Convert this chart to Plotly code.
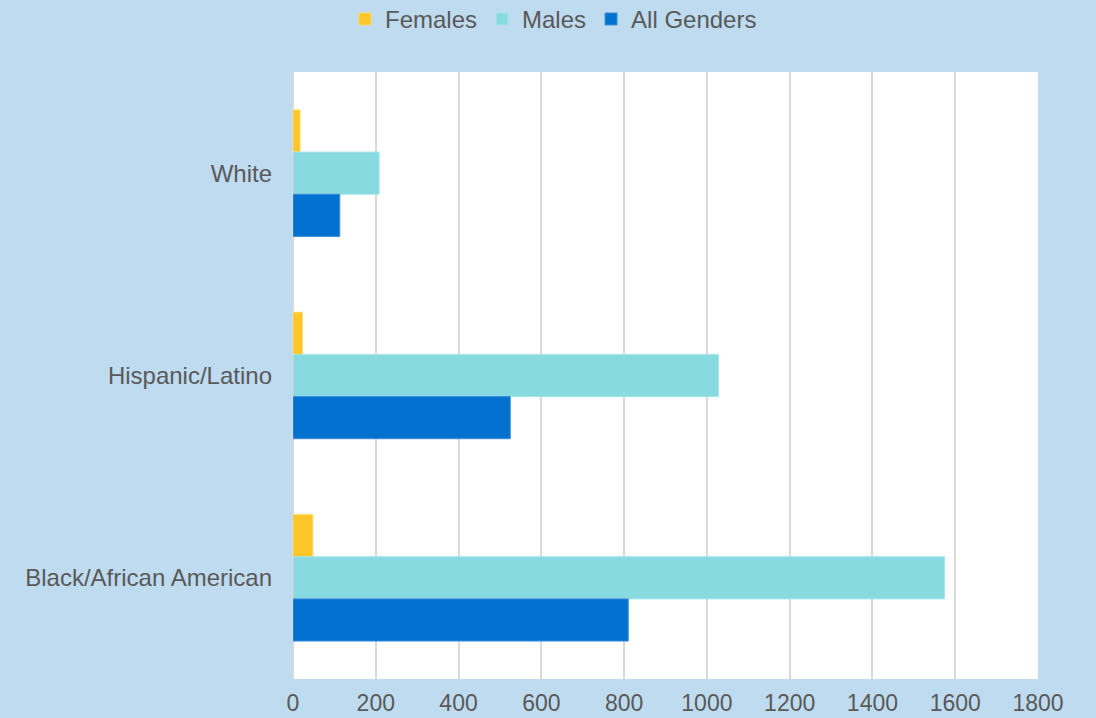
import plotly.graph_objects as go

categories = ["White", "Hispanic/Latino", "Black/African American"]
females = [17, 23, 48]
males = [208, 1028, 1574]
all_genders = [113, 525, 810]
x_ticks = [0, 200, 400, 600, 800, 1000, 1200, 1400, 1600, 1800]

BG = "#BFDBF0"
TEXT = "#595959"
FONT = "Liberation Sans, Arial, sans-serif"

fig = go.Figure()
series = [
    ("Females", females, "#FFC629", "#FFD866"),
    ("Males", males, "#86DAE0", "#A6E4E8"),
    ("All Genders", all_genders, "#0071CF", "#3D8FDB"),
]
for name, vals, col, edge in series:
    fig.add_trace(go.Bar(
        name=name, y=categories, x=vals, orientation="h",
        marker=dict(color=col, line=dict(color=edge, width=1)),
    ))

fig.update_layout(
    width=1096, height=718,
    paper_bgcolor=BG, plot_bgcolor="white",
    margin=dict(l=293, r=58, t=72, b=39, autoexpand=False),
    barmode="group", bargap=0.375, bargroupgap=0,
    font=dict(family=FONT, color=TEXT, size=24),
    showlegend=True,
    legend=dict(
        orientation="h", xref="container", yref="container",
        x=0.505, xanchor="center", y=0.973, yanchor="middle",
        font=dict(size=24, color=TEXT), bgcolor="rgba(0,0,0,0)",
        itemwidth=30, traceorder="normal",
    ),
    xaxis=dict(
        range=[0, 1800], tickvals=x_ticks, ticktext=[str(v) for v in x_ticks],
        showgrid=True, gridcolor="#D9D9D9", gridwidth=1.5,
        zeroline=True, zerolinecolor="#D9D9D9", zerolinewidth=1.5,
        showline=False, ticks="", ticklabelstandoff=8,
        tickfont=dict(size=23, color=TEXT),
    ),
    yaxis=dict(
        categoryorder="array", categoryarray=categories,
        autorange="reversed", showgrid=False, zeroline=False,
        showline=False, ticks="", ticklabelstandoff=20,
        tickfont=dict(size=24, color=TEXT),
    ),
)

fig.write_html(
    "out.html",
    config={"displayModeBar": False},
    post_script="document.body.style.margin='0';document.body.style.padding='0';"
                "document.body.style.overflow='hidden';",
)
